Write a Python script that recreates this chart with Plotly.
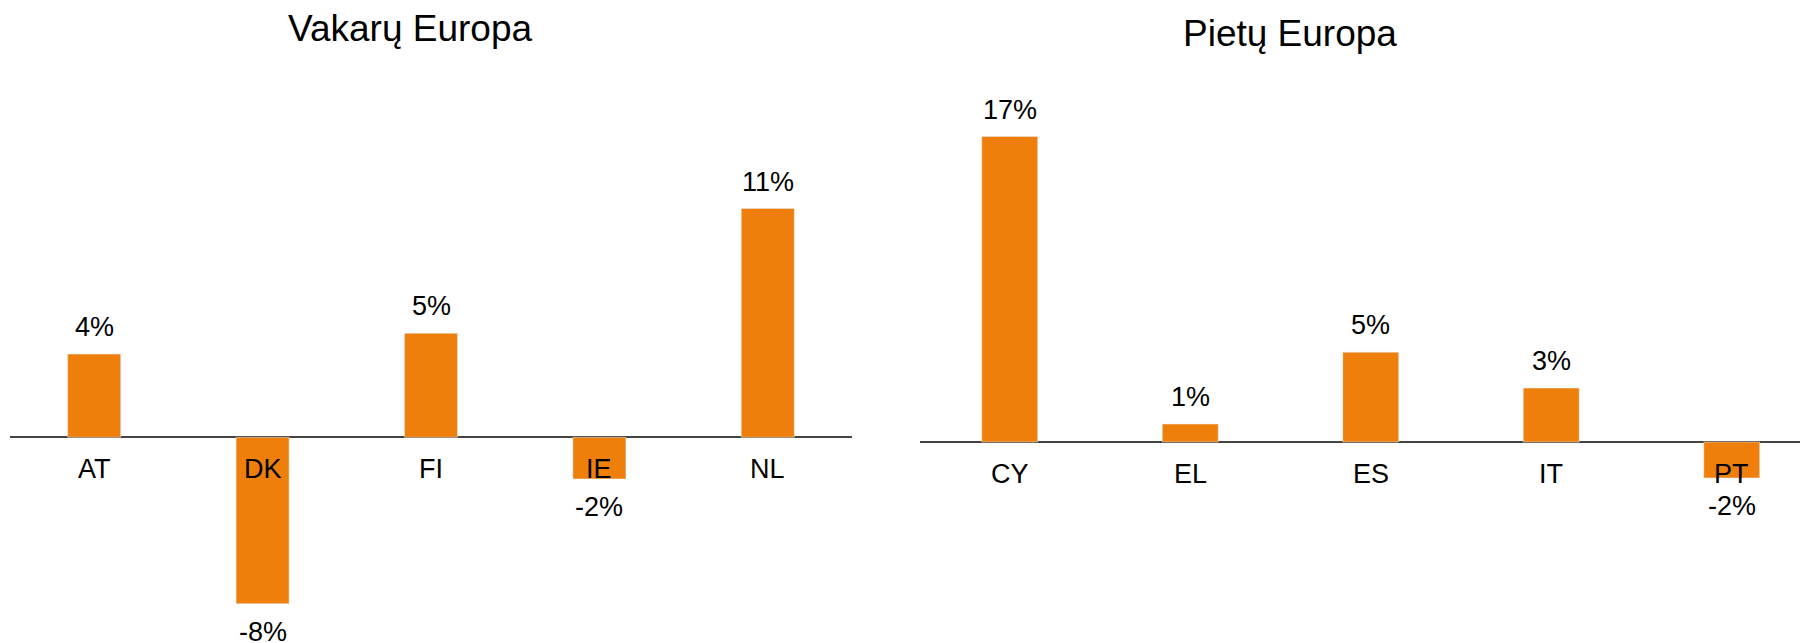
import plotly.graph_objects as go

W, H = 1808, 643
OFF = 8  # default page body margin; shift content so it lands where the reference has it

west_title = "Vakarų Europa"
south_title = "Pietų Europa"
west_countries = ["AT", "DK", "FI", "IE", "NL"]
west_values = [4.0, -8.0, 5.0, -2.0, 11.0]
west_labels = ["4%", "-8%", "5%", "-2%", "11%"]
south_countries = ["CY", "EL", "ES", "IT", "PT"]
south_values = [17.0, 1.0, 5.0, 3.0, -2.0]
south_labels = ["17%", "1%", "5%", "3%", "-2%"]

BAR = "#EF7F0B"
FONT = "Arial, Liberation Sans, sans-serif"

fig = go.Figure()
fig.add_trace(go.Bar(x=west_countries, y=west_values, marker_color=BAR,
                     width=0.315, xaxis="x", yaxis="y", hoverinfo="skip"))
fig.add_trace(go.Bar(x=south_countries, y=south_values, marker_color=BAR,
                     width=0.31, xaxis="x2", yaxis="y2", hoverinfo="skip"))

# zero-line pixel position (from top of window) and px per percent
z1, s1 = 437.3 - OFF, 20.8
z2, s2 = 442.0 - OFF, 17.97
r1 = [-(H - z1) / s1, z1 / s1]
r2 = [-(H - z2) / s2, z2 / s2]

# x geometry
l1, rr1 = 10 - OFF, 852 - OFF
l2 = 919.5 - OFF
step2 = 180.5
r2x = -0.5 + (W - l2) / step2

ann = []
for xs, vs, ls, xr, yr in [(west_countries, west_values, west_labels, "x", "y"),
                           (south_countries, south_values, south_labels, "x2", "y2")]:
    for c, v, l in zip(xs, vs, ls):
        ann.append(dict(x=c, y=v, xref=xr, yref=yr, text=l, showarrow=False,
                        yanchor="middle", xanchor="center",
                        yshift=27 if v >= 0 else -28,
                        font=dict(size=27, color="#000", family=FONT)))
        ann.append(dict(x=c, y=0, xref=xr, yref=yr, text=c, showarrow=False,
                        yanchor="middle", xanchor="center",
                        yshift=-32, font=dict(size=27, color="#000", family=FONT)))

ann.append(dict(x=(410 - OFF) / W, y=1 - (29 - OFF) / H, xref="paper", yref="paper",
                text=west_title, showarrow=False, yanchor="middle", xanchor="center",
                font=dict(size=37, color="#000", family=FONT)))
ann.append(dict(x=(1290 - OFF) / W, y=1 - (33 - OFF) / H, xref="paper", yref="paper",
                text=south_title, showarrow=False, yanchor="middle", xanchor="center",
                font=dict(size=37, color="#000", family=FONT)))

ax_common = dict(showgrid=False, showticklabels=False, ticks="", showline=False,
                 zeroline=False, type="category", fixedrange=True)
ay_common = dict(showgrid=False, showticklabels=False, ticks="", showline=False,
                 zeroline=True, zerolinecolor="#444", zerolinewidth=1.5, fixedrange=True)

fig.update_layout(
    width=W, height=H,
    margin=dict(l=0, r=0, t=0, b=0),
    paper_bgcolor="white", plot_bgcolor="white",
    showlegend=False,
    xaxis=dict(domain=[l1 / W, rr1 / W], range=[-0.5, 4.5], anchor="y", **ax_common),
    yaxis=dict(domain=[0, 1], range=r1, anchor="x", **ay_common),
    xaxis2=dict(domain=[l2 / W, 1.0], range=[-0.5, r2x], anchor="y2", **ax_common),
    yaxis2=dict(domain=[0, 1], range=r2, anchor="x2", **ay_common),
    annotations=ann,
)

fig.write_html("out.html")
